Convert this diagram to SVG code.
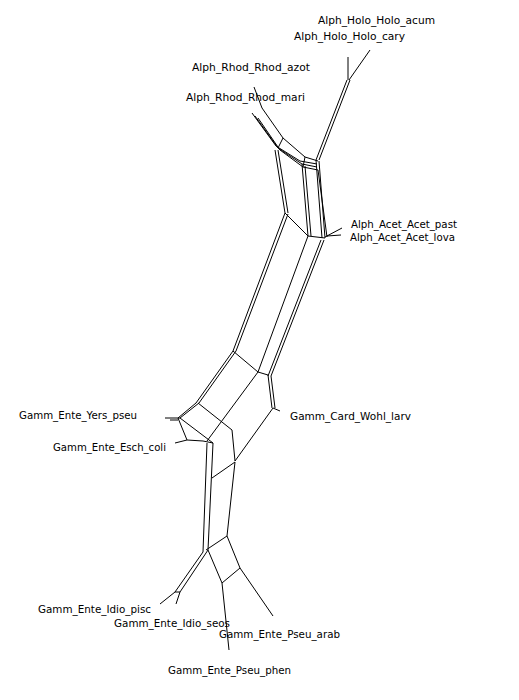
<svg xmlns="http://www.w3.org/2000/svg" width="519" height="700" viewBox="0 0 519 700">
<style>
.e{fill:none;stroke:#000;stroke-width:1}
.t{font-family:"DejaVu Sans","Liberation Sans",sans-serif;font-size:10.5px;fill:#000}
</style>
<rect width="519" height="700" fill="#fff"/>
<g id="connectors">
<polyline class="e" points="370,50 349,80"/>
<polyline class="e" points="348,57 348,80"/>
<polyline class="e" points="347,80 316,160"/>
<polyline class="e" points="350,80 319,160"/>
<polyline class="e" points="254,87 262,108 283,138 305,157 318,161"/>
<polyline class="e" points="252,113 276,146 300,161 317,164"/>
<polyline class="e" points="255,116 278,148 302,164 317,167"/>
<polyline class="e" points="258,118 280,150 303,167 318,170"/>
<polyline class="e" points="283,138 278,148"/>
<polyline class="e" points="305,157 303,167"/>
<polyline class="e" points="275,150 285,213"/>
<polyline class="e" points="278,150 288,213"/>
<polyline class="e" points="302,164 308,236"/>
<polyline class="e" points="305,166 311,236"/>
<polyline class="e" points="316,160 322,238"/>
<polyline class="e" points="319,161 325,238"/>
<polyline class="e" points="318,170 327,237"/>
<polyline class="e" points="285,213 308,236 325,238"/>
<polyline class="e" points="325,237 342,228"/>
<polyline class="e" points="327,236 341,235"/>
<polyline class="e" points="285,213 233,351"/>
<polyline class="e" points="288,214 236,351"/>
<polyline class="e" points="308,236 258,372"/>
<polyline class="e" points="321,240 268,376"/>
<polyline class="e" points="324,240 271,376"/>
<polyline class="e" points="233,351 258,372 268,375"/>
<polyline class="e" points="233,351 196,403"/>
<polyline class="e" points="236,351 199,403"/>
<polyline class="e" points="268,375 272,408"/>
<polyline class="e" points="271,376 275,408"/>
<polyline class="e" points="273,408 280,411"/>
<polyline class="e" points="196,403 178,418"/>
<polyline class="e" points="199,403 180,418"/>
<polyline class="e" points="165,418 180,418"/>
<polyline class="e" points="170,420 178,420"/>
<polyline class="e" points="178,418 187,440 203,441"/>
<polyline class="e" points="180,418 213,443"/>
<polyline class="e" points="175,443 187,440"/>
<polyline class="e" points="198,403 232,430"/>
<polyline class="e" points="258,372 207,441"/>
<polyline class="e" points="232,430 235,461"/>
<polyline class="e" points="273,408 235,461"/>
<polyline class="e" points="203,441 213,443"/>
<polyline class="e" points="207,443 203,552"/>
<polyline class="e" points="213,443 208,550"/>
<polyline class="e" points="212,478 235,462"/>
<polyline class="e" points="235,462 227,536"/>
<polyline class="e" points="227,536 206,550"/>
<polyline class="e" points="227,536 240,568 273,616"/>
<polyline class="e" points="240,568 222,583"/>
<polyline class="e" points="208,550 222,583 229,650"/>
<polyline class="e" points="203,552 175,592 160,604"/>
<polyline class="e" points="208,550 180,592 176,604"/>
<polyline class="e" points="175,592 180,592"/>
</g>
<g id="n1"><text class="t" x="318" y="24" textLength="117" lengthAdjust="spacingAndGlyphs">Alph_Holo_Holo_acum</text></g>
<g id="n2"><text class="t" x="294" y="40" textLength="111" lengthAdjust="spacingAndGlyphs">Alph_Holo_Holo_cary</text></g>
<g id="n3"><text class="t" x="192" y="71" textLength="118" lengthAdjust="spacingAndGlyphs">Alph_Rhod_Rhod_azot</text></g>
<g id="n4"><text class="t" x="186" y="101" textLength="119" lengthAdjust="spacingAndGlyphs">Alph_Rhod_Rhod_mari</text></g>
<g id="n5"><text class="t" x="351" y="228" textLength="106" lengthAdjust="spacingAndGlyphs">Alph_Acet_Acet_past</text></g>
<g id="n6"><text class="t" x="350" y="241" textLength="105" lengthAdjust="spacingAndGlyphs">Alph_Acet_Acet_lova</text></g>
<g id="n7"><text class="t" x="290" y="420" textLength="121" lengthAdjust="spacingAndGlyphs">Gamm_Card_Wohl_larv</text></g>
<g id="n8"><text class="t" x="19" y="419" textLength="118" lengthAdjust="spacingAndGlyphs">Gamm_Ente_Yers_pseu</text></g>
<g id="n9"><text class="t" x="53" y="451" textLength="113" lengthAdjust="spacingAndGlyphs">Gamm_Ente_Esch_coli</text></g>
<g id="n10"><text class="t" x="38" y="613" textLength="113" lengthAdjust="spacingAndGlyphs">Gamm_Ente_Idio_pisc</text></g>
<g id="n11"><text class="t" x="114" y="627" textLength="116" lengthAdjust="spacingAndGlyphs">Gamm_Ente_Idio_seos</text></g>
<g id="n12"><text class="t" x="219" y="638" textLength="121" lengthAdjust="spacingAndGlyphs">Gamm_Ente_Pseu_arab</text></g>
<g id="n13"><text class="t" x="168" y="674" textLength="123" lengthAdjust="spacingAndGlyphs">Gamm_Ente_Pseu_phen</text></g>
</svg>
